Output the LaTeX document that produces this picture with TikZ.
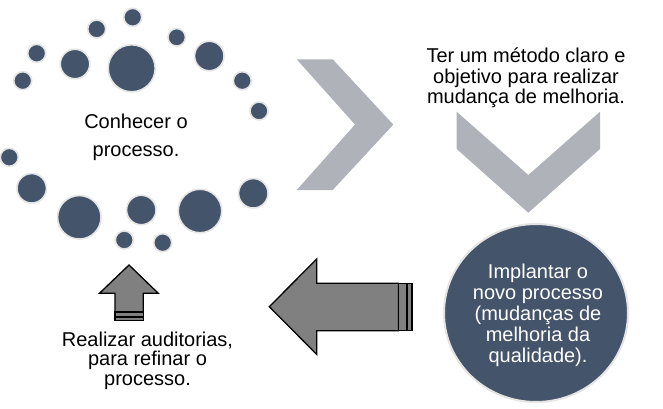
\documentclass[tikz,border=0pt]{standalone}
\usepackage{fontspec}
\setmainfont{Liberation Sans}
\usetikzlibrary{shapes.geometric}
\definecolor{circfill}{HTML}{44546A}
\definecolor{circedge}{HTML}{E4E4E4}
\definecolor{chevgray}{HTML}{AFB2B9}
\definecolor{arrgray}{HTML}{808080}
\tikzset{
  dot/.style={circle, fill=circfill, draw=circedge, line width=1.6pt, inner sep=0pt, minimum size=#1},
  chev/.style={fill=chevgray, draw=none},
  arrowbody/.style={fill=arrgray, draw=black, line width=1.3pt, line join=miter},
  stripe/.style={fill=arrgray, draw=black, line width=1.1pt},
  label/.style={inner sep=0pt, align=center, anchor=base}
}
\begin{document}
\begin{tikzpicture}[x=1pt,y=-1pt]
\useasboundingbox (0,0) rectangle (663,409);
% ring of dots
\node[dot=18pt] (d1) at (132.7,17.3) {};
\node[dot=18pt] (d2) at (96.7,29) {};
\node[dot=17.5pt] (d3) at (176.7,37.3) {};
\node[dot=18pt] (d4) at (36.7,53.3) {};
\node[dot=29.5pt] (d5) at (75,64) {};
\node[dot=47pt] (d6) at (131.7,68.3) {};
\node[dot=29.5pt] (d7) at (209.3,56) {};
\node[dot=18pt] (d8) at (22.7,80.7) {};
\node[dot=18pt] (d9) at (242.3,80.7) {};
\node[dot=18pt] (d10) at (259,111) {};
\node[dot=18pt] (d11) at (9.3,157.3) {};
\node[dot=29.5pt] (d12) at (31.7,188.3) {};
\node[dot=43.5pt] (d13) at (79.3,217.3) {};
\node[dot=29.5pt] (d14) at (141.3,210) {};
\node[dot=43.5pt] (d15) at (200,211) {};
\node[dot=29.5pt] (d16) at (253.3,193.3) {};
\node[dot=18pt] (d17) at (124.3,240) {};
\node[dot=18pt] (d18) at (162.7,242.7) {};
\node[label, font=\fontsize{20}{28.4}\selectfont] (t1) at (136,156.7) {Conhecer o\\processo.};
% right chevron
\draw[chev] (296.7,59.3) -- (332.7,59.3) -- (393.3,124.6) -- (332.7,190) -- (296.7,190) -- (355,124.6) -- cycle;
\node[label, font=\fontsize{20}{20.5}\selectfont] (t2) at (526,103.7) {Ter um método claro e\\objetivo para realizar\\mudança de melhoria.};
% down chevron
\draw[chev] (456.7,111.7) -- (528.3,175) -- (600,111.7) -- (600,149) -- (528.3,212.7) -- (456.7,149) -- cycle;
% big circle
\node[ellipse, fill=circfill, draw=circedge, line width=2pt, minimum width=184pt, minimum height=178pt, inner sep=0pt] (c) at (536,313) {};
\node[label, text=white, font=\fontsize{20}{21.1}\selectfont] (t3) at (538,362.7) {Implantar o\\novo processo\\(mudanças de\\melhoria da\\qualidade).};
% left striped arrow
\draw[arrowbody] (269.3,306.7) -- (316.7,259) -- (316.7,283.3) -- (398.5,283.3) -- (398.5,330.7) -- (316.7,330.7) -- (316.7,354.4) -- cycle;
\draw[stripe] (398.5,283.3) rectangle (406.2,330.7);
\draw[stripe] (407.8,283.3) rectangle (412,330.7);
% up striped arrow
\draw[arrowbody] (129,265) -- (158.3,293.3) -- (143.3,293.3) -- (143.3,312) -- (115,312) -- (115,293.3) -- (99.5,293.3) -- cycle;
\draw[stripe] (115,312) rectangle (143.3,316.3);
\draw[stripe] (115,317.6) rectangle (143.3,320.5);
\node[label, font=\fontsize{20}{19.2}\selectfont] (t4) at (147.5,385) {Realizar auditorias,\\para refinar o\\processo.};
\end{tikzpicture}
\end{document}
